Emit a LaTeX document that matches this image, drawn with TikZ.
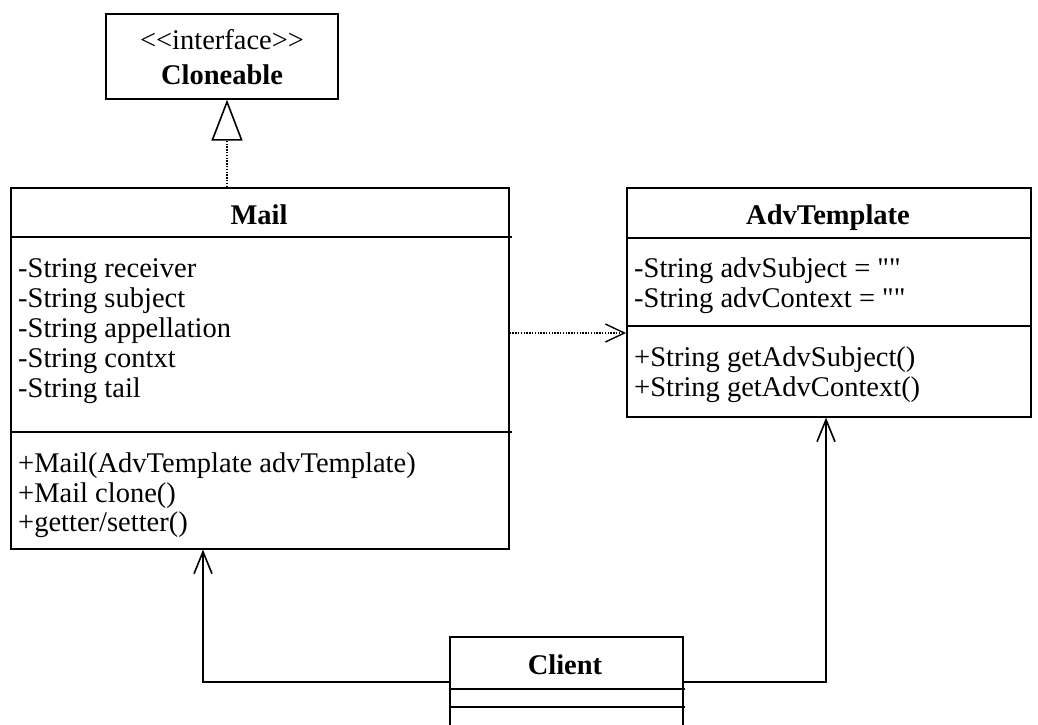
\documentclass[tikz,border=0pt]{standalone}
\usepackage{fontspec}
\setmainfont{Liberation Serif}
\newfontfamily\umlfont{Liberation Serif}
\usetikzlibrary{arrows.meta}
\begin{document}
\begin{tikzpicture}[x=1pt,y=-1pt,
  cls/.style={draw, line width=1.6pt, inner sep=0pt, anchor=north west},
  txt/.style={anchor=base west, inner sep=0pt, font=\umlfont\fontsize{28.5}{34}\selectfont},
  ttl/.style={anchor=base, inner sep=0pt, font=\umlfont\fontsize{28.5}{34}\selectfont\bfseries},
  sepline/.style={line width=1.6pt},
  assoc/.style={line width=1.6pt, -{Straight Barb[length=22pt,width=18pt,line width=1.6pt]}},
  dep/.style={line width=1.2pt, dash pattern=on 1.4pt off 1.4pt, -{Straight Barb[length=19pt,width=18pt,line width=1.4pt]}},
  realize/.style={line width=1.2pt, dash pattern=on 1.4pt off 1.4pt, -{Triangle[open,length=41pt,width=31pt,line width=1.6pt,fill=white]}}
]
\useasboundingbox (0,0) rectangle (1038,724);

% Cloneable
\node[cls, minimum width=232pt, minimum height=85pt] (cloneable) at (105,13) {};
\node[anchor=base, inner sep=0pt, font=\umlfont\fontsize{28.5}{34}\selectfont] (cltag) at (222,49) {<\kern0pt<interface>\kern0pt>};
\node[ttl] (clname) at (222,84) {Cloneable};

% Mail
\node[cls, minimum width=498pt, minimum height=361pt] (mail) at (10,187) {};
\node[ttl] (mailname) at (259,224) {Mail};
\draw[sepline] (10,237) -- (512,237);
\draw[sepline] (10,432) -- (512,432);
\node[txt] (m1) at (18,277) {-String receiver};
\node[txt] (m2) at (18,307) {-String subject};
\node[txt] (m3) at (18,337) {-String appellation};
\node[txt] (m4) at (18,367) {-String contxt};
\node[txt] (m5) at (18,397) {-String tail};
\node[txt] (m6) at (18,472) {+Mail(AdvTemplate advTemplate)};
\node[txt] (m7) at (18,502) {+Mail clone()};
\node[txt] (m8) at (18,531) {+getter/setter()};

% AdvTemplate
\node[cls, minimum width=404pt, minimum height=229pt] (adv) at (626,187) {};
\node[ttl] (advname) at (828,224) {AdvTemplate};
\draw[sepline] (626,238) -- (1032,238);
\draw[sepline] (626,326) -- (1032,326);
\node[txt] (a1) at (634,277) {-String advSubject = ""};
\node[txt] (a2) at (634,307) {-String advContext = ""};
\node[txt] (a3) at (634,366) {+String getAdvSubject()};
\node[txt] (a4) at (634,396) {+String getAdvContext()};

% Client
\node[cls, minimum width=233pt, minimum height=103pt] (client) at (449,636) {};
\node[ttl] (clientname) at (565,674) {Client};
\draw[sepline] (449,689) -- (685,689);
\draw[sepline] (449,707) -- (685,707);

% connectors
\draw[realize] ([xshift=217pt]mail.north west) -- ([xshift=122pt]cloneable.south west);
\draw[dep] ([yshift=-146pt]mail.north east) -- ([yshift=-146pt]adv.north west);
\draw[assoc] ([yshift=-46pt]client.north west) -| ([xshift=193pt]mail.south west);
\draw[assoc] ([yshift=-46pt]client.north east) -| ([xshift=200pt]adv.south west);
\end{tikzpicture}
\end{document}
